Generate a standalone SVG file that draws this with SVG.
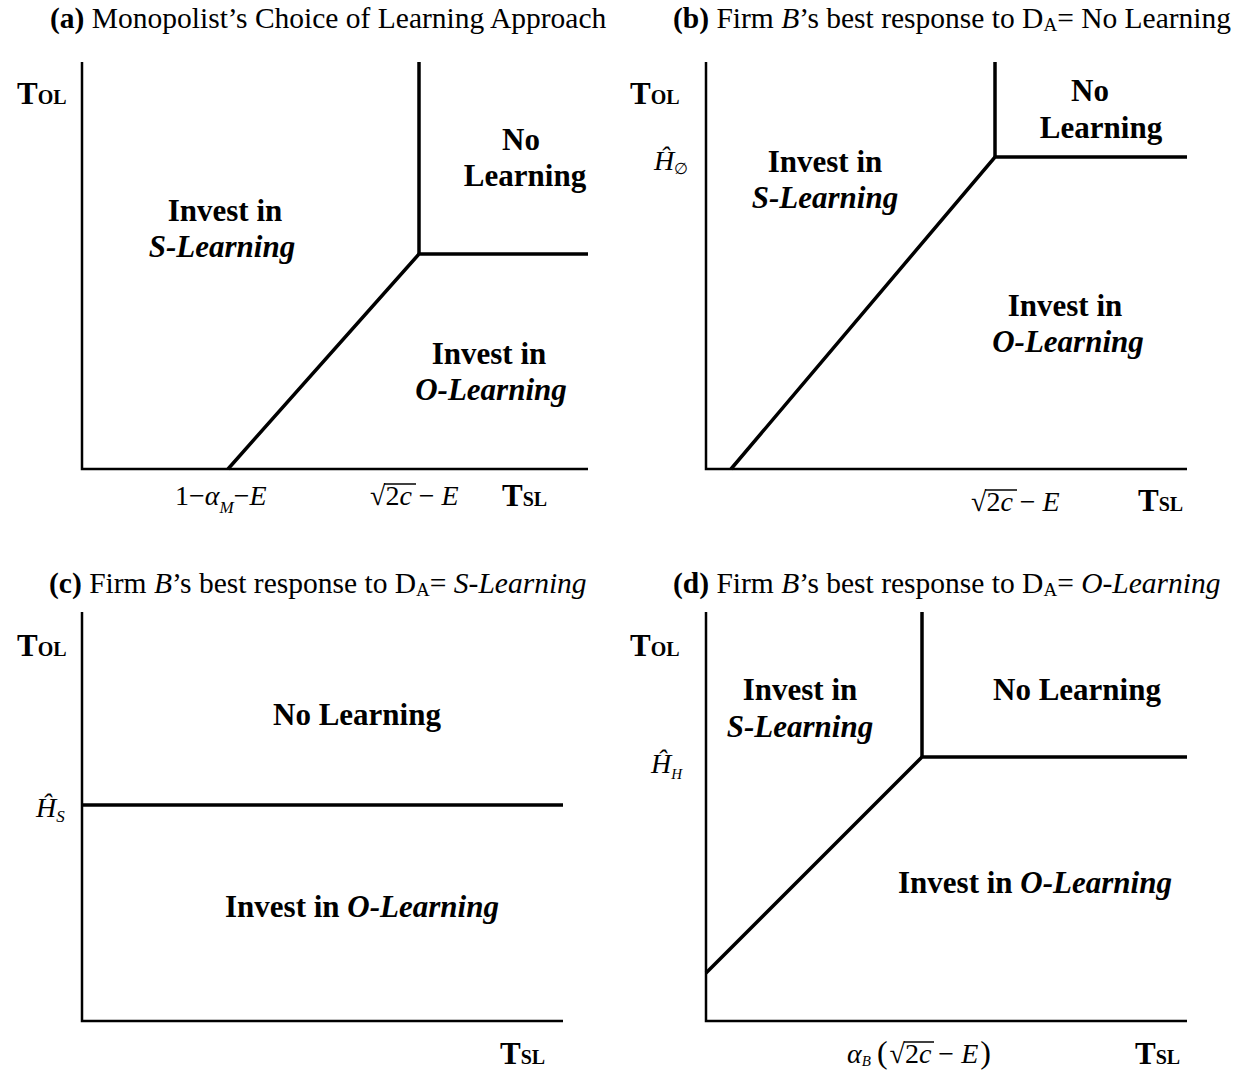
<svg xmlns="http://www.w3.org/2000/svg" width="1248" height="1081" viewBox="0 0 1248 1081">
<style>
text{font-family:"Liberation Serif","Times New Roman",serif;fill:#000}
.title{font-size:29.5px}
.b{font-weight:bold}
.i{font-style:italic}
.region{font-size:31px;font-weight:bold;text-anchor:middle}
.ax{font-size:31px;font-weight:bold}
.math{font-size:28px;font-style:italic}
.axis{stroke:#000;stroke-width:2.5;fill:none}
.bd{stroke:#000;stroke-width:3.5;fill:none;stroke-linecap:butt}
.vin{stroke:#000;stroke-width:1.5}
</style>

<g id="titles">
<text class="title" x="50" y="28"><tspan class="b">(a)</tspan> Monopolist’s Choice of Learning Approach</text>
<text class="title" x="673" y="28"><tspan class="b">(b)</tspan> Firm <tspan class="i">B</tspan>’s best response to D<tspan font-size="19" dy="3">A</tspan><tspan dy="-3">= No Learning</tspan></text>
<text class="title" x="49" y="593"><tspan class="b">(c)</tspan> Firm <tspan class="i">B</tspan>’s best response to D<tspan font-size="19" dy="3">A</tspan><tspan dy="-3">= </tspan><tspan class="i">S-Learning</tspan></text>
<text class="title" x="673" y="593"><tspan class="b">(d)</tspan> Firm <tspan class="i">B</tspan>’s best response to D<tspan font-size="19" dy="3">A</tspan><tspan dy="-3">= </tspan><tspan class="i">O-Learning</tspan></text>
</g>

<g id="axes">
<polyline class="axis" points="82,62 82,469 588,469"/>
<polyline class="axis" points="706,62 706,469 1187,469"/>
<polyline class="axis" points="82,612 82,1021 563,1021"/>
<polyline class="axis" points="706,612 706,1021 1187,1021"/>
</g>

<g id="connectors">
<polyline class="bd" points="228,469 419,254 588,254"/>
<line class="bd" x1="419" y1="62" x2="419" y2="254"/>
<polyline class="bd" points="731,469 995,157 1187,157"/>
<line class="bd" x1="995" y1="62" x2="995" y2="157"/>
<line class="bd" x1="82" y1="805" x2="563" y2="805"/>
<polyline class="bd" points="706,973 922,757 1187,757"/>
<line class="bd" x1="922" y1="612" x2="922" y2="757"/>
</g>

<g id="panel-a">
<text class="ax" x="17" y="104">T<tspan font-size="20">OL</tspan></text>
<text class="ax" x="502" y="506">T<tspan font-size="20">SL</tspan></text>
<text class="region" x="521" y="150">No</text>
<text class="region" x="525" y="186">Learning</text>
<text class="region" x="225" y="221">Invest in</text>
<text class="region i" x="222" y="257">S-Learning</text>
<text class="region" x="489" y="364">Invest in</text>
<text class="region i" x="491" y="400">O-Learning</text>
<text class="math" x="175" y="505"><tspan font-style="normal">1−</tspan>α<tspan font-size="17" dy="8">M</tspan><tspan dy="-8" font-style="normal">−</tspan>E</text>
<text class="math" x="370" y="505"><tspan font-style="normal">√</tspan><tspan font-style="normal">2</tspan>c<tspan font-style="normal"> − </tspan>E</text>
<line class="vin" x1="384" y1="484" x2="416" y2="484"/>
</g>

<g id="panel-b">
<text class="ax" x="630" y="104">T<tspan font-size="20">OL</tspan></text>
<text class="ax" x="1138" y="511">T<tspan font-size="20">SL</tspan></text>
<text class="region" x="1090" y="101">No</text>
<text class="region" x="1101" y="138">Learning</text>
<text class="region" x="825" y="172">Invest in</text>
<text class="region i" x="825" y="208">S-Learning</text>
<text class="region" x="1065" y="316">Invest in</text>
<text class="region i" x="1068" y="352">O-Learning</text>
<text class="math" x="654" y="170">Ĥ<tspan font-size="16" font-style="normal" dy="4">∅</tspan></text>
<text class="math" x="971" y="511"><tspan font-style="normal">√</tspan><tspan font-style="normal">2</tspan>c<tspan font-style="normal"> − </tspan>E</text>
<line class="vin" x1="985" y1="490" x2="1017" y2="490"/>
</g>

<g id="panel-c">
<text class="ax" x="17" y="656">T<tspan font-size="20">OL</tspan></text>
<text class="ax" x="500" y="1064">T<tspan font-size="20">SL</tspan></text>
<text class="region" x="357" y="725">No Learning</text>
<text class="region" x="362" y="917">Invest in <tspan font-style="italic">O-Learning</tspan></text>
<text class="math" x="36" y="817">Ĥ<tspan font-size="17" dy="5">S</tspan></text>
</g>

<g id="panel-d">
<text class="ax" x="630" y="656">T<tspan font-size="20">OL</tspan></text>
<text class="ax" x="1135" y="1064">T<tspan font-size="20">SL</tspan></text>
<text class="region" x="800" y="700">Invest in</text>
<text class="region i" x="800" y="737">S-Learning</text>
<text class="region" x="1077" y="700">No Learning</text>
<text class="region" x="1035" y="893">Invest in <tspan font-style="italic">O-Learning</tspan></text>
<text class="math" x="651" y="773">Ĥ<tspan font-size="15" dy="6">H</tspan></text>
<text class="math" x="847" y="1063">α<tspan font-size="15" dy="3">B</tspan><tspan dy="-3" font-style="normal" font-size="32" dx="6">(</tspan><tspan font-style="normal" dx="2">√</tspan><tspan font-style="normal">2</tspan>c<tspan font-style="normal"> − </tspan>E<tspan font-style="normal" font-size="32" dx="2">)</tspan></text>
<line class="vin" x1="904" y1="1042" x2="934" y2="1042"/>
</g>
</svg>
